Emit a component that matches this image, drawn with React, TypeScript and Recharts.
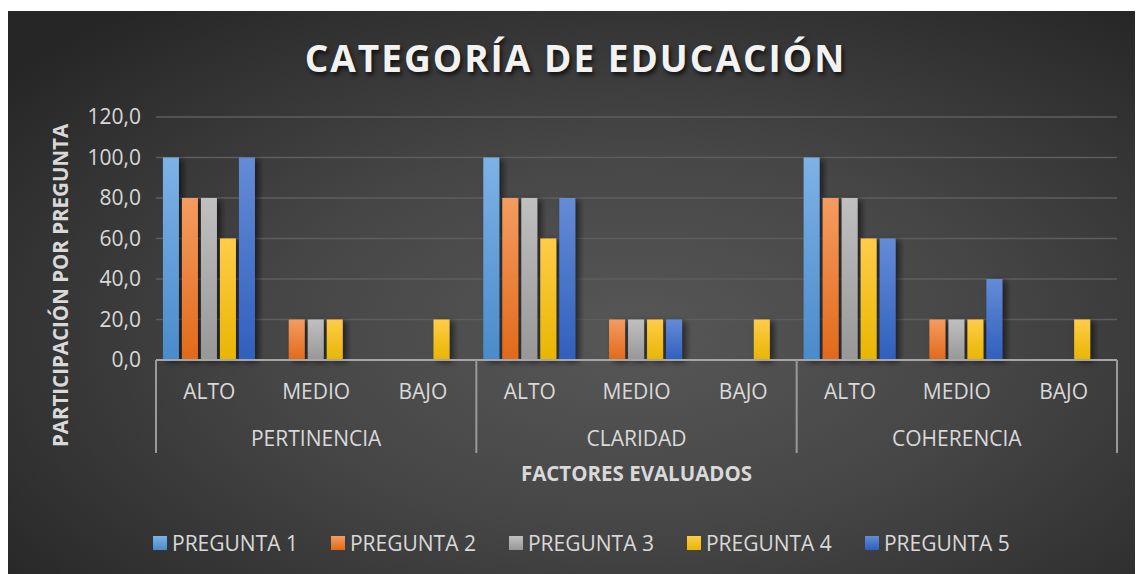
import React from "react";
import { Bar, BarChart, CartesianGrid, Legend, XAxis, YAxis } from "recharts";

const groups = ["PERTINENCIA", "CLARIDAD", "COHERENCIA"];
const levels = ["ALTO", "MEDIO", "BAJO"];
const pregunta1 = [100, 0, 0, 100, 0, 0, 100, 0, 0];
const pregunta2 = [80, 20, 0, 80, 20, 0, 80, 20, 0];
const pregunta3 = [80, 20, 0, 80, 20, 0, 80, 20, 0];
const pregunta4 = [60, 20, 20, 60, 20, 20, 60, 20, 20];
const pregunta5 = [100, 0, 0, 80, 20, 0, 60, 40, 0];
const seriesNames = ["PREGUNTA 1", "PREGUNTA 2", "PREGUNTA 3", "PREGUNTA 4", "PREGUNTA 5"];
const yTicks = [0, 20, 40, 60, 80, 100, 120];

const values = [pregunta1, pregunta2, pregunta3, pregunta4, pregunta5];

const rows = groups.flatMap((g, gi) =>
  levels.map((lvl, li) => {
    const i = gi * levels.length + li;
    const row: Record<string, string | number> = { sub: lvl, group: g };
    seriesNames.forEach((s, si) => (row[s] = values[si][i]));
    return row;
  })
);

// top / bottom colours of each bar gradient
const colors = [
  ["#7db2e6", "#4a8bcb"],
  ["#f49c60", "#e2691a"],
  ["#c0c0c0", "#979797"],
  ["#ffcc4a", "#e8b600"],
  ["#658bd6", "#2f60bd"],
];

const FONT = "'Open Sans', sans-serif";
const TXT = "#d9d9d9";

function GroupTick(props: any) {
  const { x, y, payload, index } = props;
  const half = payload?.offset || 53.4;
  const i = payload?.index ?? index;
  return (
    <g>
      <text x={x} y={y + 31} textAnchor="middle" dominantBaseline="central" fill={TXT} fontSize={21} fontFamily={FONT}>
        {payload.value}
      </text>
      {i % 3 === 1 && (
        <text x={x} y={y + 78} textAnchor="middle" dominantBaseline="central" fill={TXT} fontSize={21} fontFamily={FONT}>
          {rows[i].group}
        </text>
      )}
      {i % 3 === 0 && <line x1={x - half} x2={x - half} y1={y} y2={y + 93} stroke="#9a9a9a" strokeWidth={2} />}
      {i === rows.length - 1 && <line x1={x + half} x2={x + half} y1={y} y2={y + 93} stroke="#9a9a9a" strokeWidth={2} />}
    </g>
  );
}

function YTitle(props: any) {
  const { viewBox } = props;
  const cx = viewBox.x + 52;
  const cy = viewBox.y + viewBox.height / 2 + 47;
  return (
    <text
      x={cx}
      y={cy}
      transform={`rotate(-90 ${cx} ${cy})`}
      textAnchor="middle"
      dominantBaseline="central"
      fill={TXT}
      fontSize={20.5}
      fontWeight="bold"
      fontFamily={FONT}
    >
      PARTICIPACIÓN POR PREGUNTA
    </text>
  );
}

function LegendContent() {
  return (
    <div style={{ height: 50, boxSizing: "border-box", paddingTop: 8, paddingLeft: 145, display: "flex", gap: 33 }}>
      {seriesNames.map((s, i) => (
        <div key={s} style={{ display: "flex", alignItems: "center", height: 22 }}>
          <span
            style={{
              width: 14,
              height: 14,
              marginRight: 5,
              background: `linear-gradient(${colors[i][0]}, ${colors[i][1]})`,
            }}
          />
          <span style={{ color: TXT, fontSize: 21, fontFamily: FONT, lineHeight: "22px", whiteSpace: "nowrap" }}>{s}</span>
        </div>
      ))}
    </div>
  );
}

export default function App() {
  return (
    <div style={{ paddingTop: 3 }}>
      <div
        style={{
          position: "relative",
          width: 1135,
          height: 563,
          background: "radial-gradient(ellipse 70% 75% at 55% 58%, #575757 0%, #464646 45%, #2f2f2f 85%, #262626 100%)",
        }}
      >
        <div
          style={{
            position: "absolute",
            top: 22,
            left: 0,
            width: 1135,
            textAlign: "center",
            lineHeight: "50px",
            fontFamily: FONT,
            fontWeight: 700,
            fontSize: 37,
            letterSpacing: 2,
            color: "#f2f2f2",
            textShadow: "2px 3px 4px rgba(0,0,0,0.7)",
          }}
        >
          CATEGORÍA DE EDUCACIÓN
        </div>
        <BarChart
          width={1135}
          height={563}
          data={rows}
          margin={{ top: 106, right: 26, left: 0, bottom: 0 }}
          barCategoryGap="6.5%"
          barGap={3}
          style={{ position: "absolute", top: 0, left: 0 }}
        >
          <defs>
            {colors.map((c, i) => (
              <linearGradient key={i} id={`grad${i}`} x1="0" y1="0" x2="0" y2="1">
                <stop offset="0%" stopColor={c[0]} />
                <stop offset="100%" stopColor={c[1]} />
              </linearGradient>
            ))}
            <filter id="barShadow" x="-30%" y="-10%" width="180%" height="130%">
              <feDropShadow dx={4} dy={2} stdDeviation={3} floodColor="#000" floodOpacity={0.55} />
            </filter>
          </defs>
          <CartesianGrid vertical={false} stroke="#5e5e5e" strokeWidth={1.5} />
          <XAxis
            dataKey="sub"
            interval={0}
            height={164}
            tickLine={false}
            tickSize={0}
            tickMargin={0}
            axisLine={{ stroke: "#a6a6a6", strokeWidth: 2 }}
            tick={<GroupTick />}
            label={{
              value: "FACTORES EVALUADOS",
              position: "insideBottom",
              offset: 43,
              fill: TXT,
              fontSize: 20.5,
              fontWeight: "bold",
              fontFamily: FONT,
            }}
          />
          <YAxis
            width={148}
            domain={[0, 120]}
            ticks={yTicks}
            axisLine={false}
            tickLine={false}
            tickSize={0}
            tickMargin={15}
            tickFormatter={(v: number) => v.toFixed(1).replace(".", ",")}
            tick={{ fill: TXT, fontSize: 21, fontFamily: FONT }}
            label={<YTitle />}
          />
          <Legend verticalAlign="bottom" height={50} wrapperStyle={{ left: 0, width: 1135 }} content={<LegendContent />} />
          {seriesNames.map((s, i) => (
            <Bar key={s} dataKey={s} fill={`url(#grad${i})`} filter="url(#barShadow)" isAnimationActive={false} />
          ))}
        </BarChart>
      </div>
    </div>
  );
}
